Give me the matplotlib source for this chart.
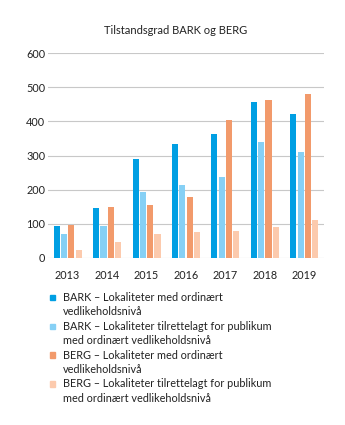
import numpy as np
import matplotlib.pyplot as plt
from matplotlib.patches import Rectangle

plt.rcParams['font.family'] = ['Lato', 'DejaVu Sans']

years = ["2013", "2014", "2015", "2016", "2017", "2018", "2019"]
bark_ord = [94, 145, 291, 334, 362, 456, 421]
bark_pub = [71, 93, 193, 213, 238, 341, 309]
berg_ord = [96, 148, 156, 179, 403, 462, 481]
berg_pub = [23, 47, 69, 76, 78, 91, 110]

labels = ["BARK – Lokaliteter med ordinært\nvedlikeholdsnivå",
          "BARK – Lokaliteter tilrettelagt for publikum\nmed ordinært vedlikeholdsnivå",
          "BERG – Lokaliteter med ordinært\nvedlikeholdsnivå",
          "BERG – Lokaliteter tilrettelagt for publikum\nmed ordinært vedlikeholdsnivå"]
colors = ["#009fe3", "#86d0f5", "#f29a6b", "#fccaad"]
series = [bark_ord, bark_pub, berg_ord, berg_pub]

W, H = 345, 425
fig = plt.figure(figsize=(W / 100, H / 100), dpi=100)
ax = fig.add_axes([0.139, 0.393, 0.80, 0.482])

x = np.arange(len(years))
w = 0.155
step = 0.185
for i, (vals, c) in enumerate(zip(series, colors)):
    ax.bar(x + (i - 1.5) * step, vals, w, color=c, zorder=3)

ax.set_xlim(-0.5, 6.5)
ax.set_ylim(0, 600)
ax.set_yticks(range(0, 601, 100))
ax.set_xticks(x)
ax.set_xticklabels(years)
ax.yaxis.grid(True, color="#c8c8c8", linewidth=0.8, zorder=0)
for s in ["top", "right", "left", "bottom"]:
    ax.spines[s].set_visible(False)
ax.tick_params(axis="both", length=0, labelsize=7.8, colors="#222222")
ax.tick_params(axis="x", pad=9)
ax.tick_params(axis="y", pad=2)

fig.text(0.51, 0.928, "Tilstandsgrad BARK og BERG", ha="center", va="center",
         fontsize=8, color="#222222")

# legend drawn by hand so the swatch sits on the first text line
y0 = 297.5
for i, (lab, c) in enumerate(zip(labels, colors)):
    yy = y0 + i * 28.8
    fig.patches.append(Rectangle((50 / W, 1 - (yy + 2.7) / H), 5.4 / W, 5.4 / H,
                                 transform=fig.transFigure, color=c))
    fig.text(63 / W, 1 - (yy - 5.5) / H, lab, ha="left", va="top",
             fontsize=7.8, color="#222222", linespacing=1.35)

fig.savefig("out.png", dpi=100)
